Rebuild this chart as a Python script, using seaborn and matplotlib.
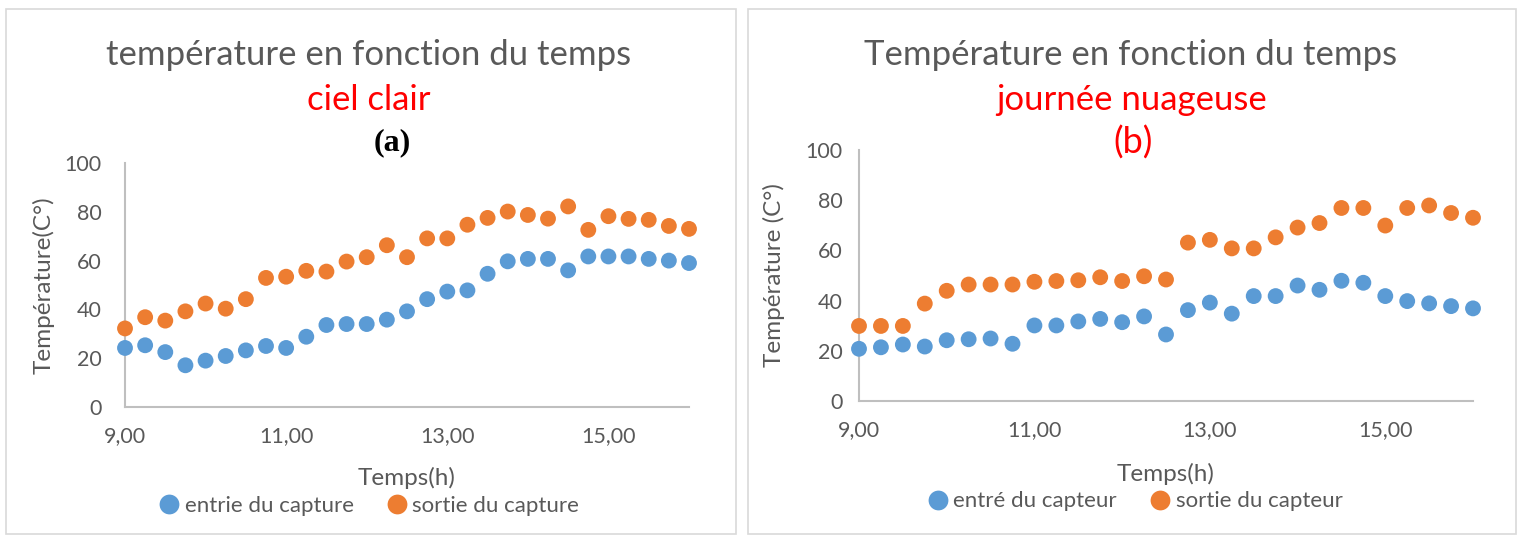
import numpy as np
import pandas as pd
import seaborn as sns
import matplotlib.pyplot as plt
from matplotlib.patches import Rectangle

# heures de mesure (toutes les 15 min de 9h a 16h)
temps = [9.00, 9.25, 9.50, 9.75, 10.00, 10.25, 10.50, 10.75, 11.00, 11.25,
         11.50, 11.75, 12.00, 12.25, 12.50, 12.75, 13.00, 13.25, 13.50, 13.75,
         14.00, 14.25, 14.50, 14.75, 15.00, 15.25, 15.50, 15.75, 16.00]

# (a) ciel clair
entree_a = [24.2, 25.3, 22.5, 17.1, 19.0, 20.9, 23.2, 25.0, 24.2, 28.8,
            33.6, 34.0, 34.0, 35.8, 39.2, 44.2, 47.3, 47.8, 54.6, 59.7,
            60.7, 60.7, 56.0, 61.7, 61.7, 61.7, 60.7, 60.0, 59.0]
sortie_a = [32.2, 36.8, 35.4, 39.2, 42.4, 40.3, 44.2, 52.9, 53.4, 55.8,
            55.5, 59.6, 61.4, 66.3, 61.4, 69.1, 69.1, 74.7, 77.5, 80.1,
            78.7, 77.2, 82.2, 72.6, 78.2, 77.1, 76.7, 74.2, 73.0]

# (b) journee nuageuse
entree_b = [20.8, 21.4, 22.5, 21.7, 24.2, 24.6, 24.9, 22.8, 30.1, 30.1,
            31.7, 32.7, 31.4, 33.7, 26.5, 36.2, 39.2, 34.8, 41.8, 41.8,
            46.0, 44.3, 47.9, 47.1, 41.8, 39.8, 38.9, 37.8, 36.9]
sortie_b = [29.9, 29.9, 29.9, 38.8, 43.9, 46.4, 46.4, 46.4, 47.5, 47.8,
            48.1, 49.3, 47.8, 49.7, 48.4, 63.1, 64.2, 60.8, 60.8, 65.2,
            69.1, 70.9, 76.9, 76.9, 69.9, 76.9, 77.9, 74.9, 73.0]

x_ticks = [9, 11, 13, 15]
x_tick_labels = ["9,00", "11,00", "13,00", "15,00"]
y_ticks = [0, 20, 40, 60, 80, 100]

series_a = ["entrie du capture", "sortie du capture"]
series_b = ["entré du capteur", "sortie du capteur"]

BLUE = "#5B9BD5"
ORANGE = "#ED7D31"
GREY = "#595959"
W, H = 1521, 535

sns.set_theme(style="white")
plt.rcParams['font.family'] = ['Lato', 'DejaVu Sans']

fig = plt.figure(figsize=(W / 100, H / 100), dpi=100)


def px(x, y):
    return x / W, 1 - y / H


def make_df(e, s, names):
    return pd.DataFrame({
        "temps": temps * 2,
        "temp": e + s,
        "serie": [names[0]] * len(e) + [names[1]] * len(s),
    })


def draw(ax, df, names, ylabel, ylab_x, leg_x, leg_y):
    sns.scatterplot(data=df, x="temps", y="temp", hue="serie", ax=ax,
                    palette={names[0]: BLUE, names[1]: ORANGE},
                    s=130, linewidth=0, clip_on=False, zorder=3)
    ax.set_xlim(9, 16)
    ax.set_ylim(0, 100)
    ax.set_xticks(x_ticks)
    ax.set_xticklabels(x_tick_labels)
    ax.set_yticks(y_ticks)
    ax.tick_params(length=0, labelsize=15.5, labelcolor=GREY)
    ax.tick_params(axis="x", pad=14)
    for side in ["top", "right"]:
        ax.spines[side].set_visible(False)
    for side in ["left", "bottom"]:
        ax.spines[side].set_color("#BFBFBF")
        ax.spines[side].set_linewidth(1.5)
    ax.set_xlabel("Temps(h)", fontsize=17.5, color=GREY)
    ax.set_ylabel(ylabel, fontsize=17.5, color=GREY)
    ax.xaxis.set_label_coords(0.5, -0.245)
    ax.yaxis.set_label_coords(ylab_x, 0.5)
    ax.legend(loc="center", bbox_to_anchor=(leg_x, leg_y), ncol=2,
              frameon=False, fontsize=16, labelcolor=GREY,
              handlelength=0.9, handletextpad=0.25, columnspacing=1.5,
              markerscale=1.25)


# cadres des deux graphiques
for x0, x1 in [(6, 736), (748, 1516)]:
    fig.patches.append(Rectangle(px(x0, 534), (x1 - x0) / W, (534 - 9) / H,
                                 transform=fig.transFigure, fill=False,
                                 edgecolor="#D9D9D9", linewidth=1.2))

ax_a = fig.add_axes([125 / W, 1 - 407 / H, 564 / W, 244 / H])
draw(ax_a, make_df(entree_a, sortie_a, series_a), series_a,
     "Température(C°)", -0.125, 0.433, -0.405)
ax_a.tick_params(axis="y", pad=17)

ax_b = fig.add_axes([859 / W, 1 - 401 / H, 614 / W, 251 / H])
draw(ax_b, make_df(entree_b, sortie_b, series_b), series_b,
     "Température (C°)", -0.12, 0.45, -0.40)
ax_b.tick_params(axis="y", pad=12)

# titres
fig.text(*px(369, 55), "température en fonction du temps", fontsize=25,
         color=GREY, ha="center", va="center")
fig.text(*px(369, 100), "ciel clair", fontsize=25, color="red",
         ha="center", va="center")
fig.text(*px(392, 143), "(a)", fontsize=23, color="black", weight="bold",
         family=["Liberation Serif", "DejaVu Serif"], ha="center", va="center")

fig.text(*px(1131, 55), "Température en fonction du temps", fontsize=25,
         color=GREY, ha="center", va="center")
fig.text(*px(1132, 100), "journée nuageuse", fontsize=25, color="red",
         ha="center", va="center")
fig.text(*px(1133, 143), "(b)", fontsize=26, color="red",
         ha="center", va="center")

fig.savefig("out.png", dpi=100)
